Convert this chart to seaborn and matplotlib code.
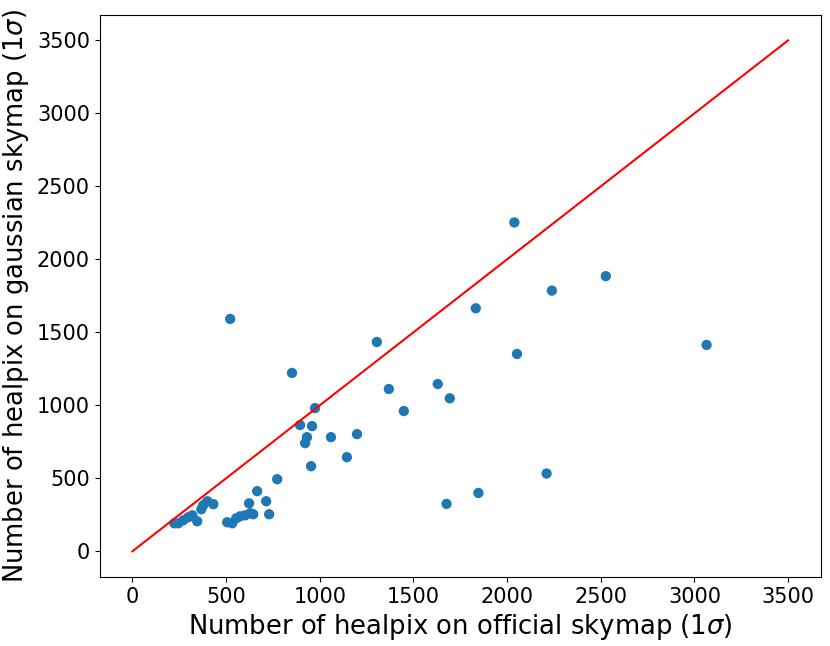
import numpy as np
import pandas as pd
import matplotlib
matplotlib.use("Agg")
import matplotlib.pyplot as plt
import seaborn as sns

# healpix counts (official vs gaussian skymap, 1 sigma)
official = [224, 245, 272, 298, 320, 346, 368, 378, 400, 432,
            506, 533, 554, 575, 602, 629, 645, 623, 666, 714,
            730, 773, 852, 975, 895, 959, 932, 922, 1060, 1199,
            1145, 954, 1305, 1369, 1630, 1694, 1449, 1833, 522, 2039,
            2527, 2239, 2053, 3065, 2211, 1847, 1677]
gaussian = [192, 192, 213, 233, 247, 206, 288, 316, 343, 323,
            199, 192, 226, 240, 247, 261, 254, 329, 412, 343,
            254, 494, 1222, 981, 865, 858, 782, 741, 782, 803,
            645, 583, 1434, 1112, 1146, 1048, 961, 1665, 1592, 2253,
            1885, 1786, 1352, 1414, 533, 400, 325]
diag = [0, 3500]

df = pd.DataFrame({'official': official, 'gaussian': gaussian})

fig, ax = plt.subplots(figsize=(8.3, 6.46), dpi=100)
fig.subplots_adjust(left=0.12, right=0.989, bottom=0.107, top=0.977)

sns.scatterplot(data=df, x='official', y='gaussian', ax=ax,
                color='#1f77b4', s=55, edgecolor='none')
ax.plot(diag, diag, color='red')

ax.set_xlabel(r'Number of healpix on official skymap (1$\sigma$)', fontsize=18.6)
ax.set_ylabel(r'Number of healpix on gaussian skymap (1$\sigma$)', fontsize=18.6)
ax.tick_params(labelsize=15)

fig.savefig('out.png', dpi=100)
